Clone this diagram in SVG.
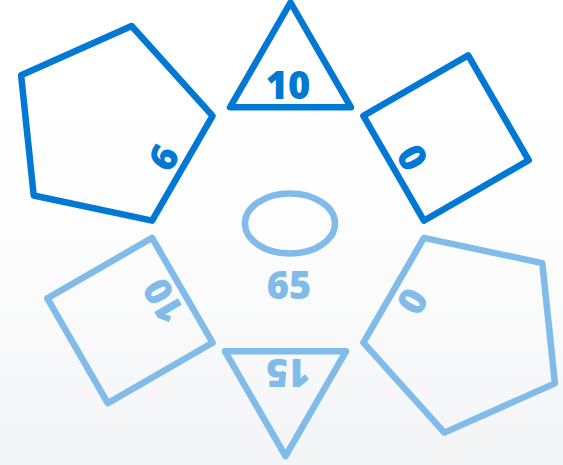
<svg xmlns="http://www.w3.org/2000/svg" width="563" height="465" viewBox="0 0 563 465">
<defs>
<linearGradient id="bg" x1="0" y1="0" x2="0" y2="1">
<stop offset="0" stop-color="#ffffff"/>
<stop offset="0.45" stop-color="#fefefe"/>
<stop offset="1" stop-color="#f3f4f6"/>
</linearGradient>
</defs>
<style>
.s{fill:none;stroke-width:6.5;stroke-linejoin:round;stroke-linecap:round}
.d{stroke:#0078d4}
.l{stroke:#80bbe9}
.t{font-family:"Open Sans","Liberation Sans",sans-serif;font-weight:800;font-size:38px;text-anchor:middle}
.td{fill:#0078d4}
.tl{fill:#80bbe9}
</style>
<rect width="563" height="465" fill="url(#bg)"/>
<g id="connectors"/>
<g transform="translate(288,229.3)">
<g id="node-top-triangle" transform="rotate(0)">
<polygon class="s d" points="-58,-122 63,-122 2.5,-226.8"/>
<text class="t td" x="0" y="-130">10</text>
</g>
<g id="node-top-right-square" transform="rotate(60)">
<polygon class="s d" points="-60.5,-122 60.5,-122 60.5,-243 -60.5,-243"/>
<text class="t td" x="0" y="-130">0</text>
</g>
<g id="node-bottom-right-pentagon" transform="rotate(120)">
<polygon class="s l" points="-60.5,-122 60.5,-122 97.9,-237.1 0,-308.2 -97.9,-237.1"/>
<text class="t tl" x="0" y="-130">0</text>
</g>
<g id="node-bottom-triangle" transform="rotate(180)">
<polygon class="s l" points="-58,-122 63,-122 2.5,-226.8"/>
<text class="t tl" x="0" y="-130">15</text>
</g>
<g id="node-bottom-left-square" transform="rotate(240)">
<polygon class="s l" points="-60.5,-122 60.5,-122 60.5,-243 -60.5,-243"/>
<text class="t tl" x="0" y="-130">10</text>
</g>
<g id="node-top-left-pentagon" transform="rotate(300)">
<polygon class="s d" points="-60.5,-122 60.5,-122 97.9,-237.1 0,-308.2 -97.9,-237.1"/>
<text class="t td" x="0" y="-130">6</text>
</g>
</g>
<g id="node-center">
<ellipse class="s l" cx="290" cy="223.5" rx="45" ry="30"/>
<text class="t tl" x="289" y="299">65</text>
</g>
</svg>
